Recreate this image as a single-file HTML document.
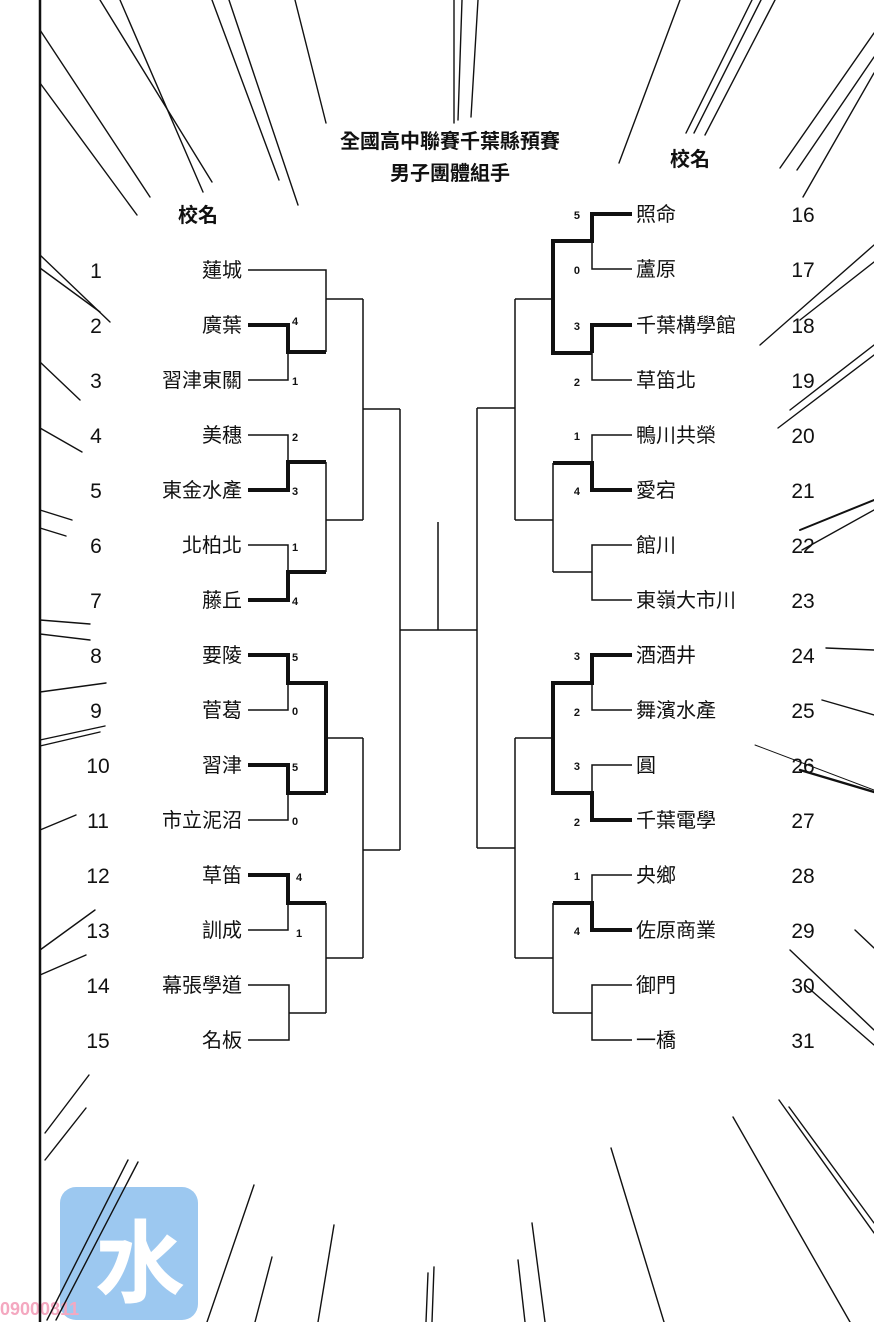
<!DOCTYPE html>
<html><head><meta charset="utf-8"><style>
html,body{margin:0;padding:0;background:#fff;}
svg{display:block;}
text{font-family:"Liberation Sans","Noto Sans CJK TC","Noto Sans CJK SC",sans-serif;fill:#111;}
.nm{font-size:20px;}
.num{font-size:21px;}
.sc{font-size:11px;font-weight:bold;}
.t{font-size:20px;font-weight:bold;}
</style></head><body>
<svg width="874" height="1322" viewBox="0 0 874 1322" xmlns="http://www.w3.org/2000/svg">
<rect width="874" height="1322" fill="#fff"/>
<!-- watermark -->
<rect x="60" y="1187" width="138" height="133" rx="16" fill="#9cc8f0"/>
<text x="140" y="1295" style="font-size:90px;fill:#fff;font-weight:bold" text-anchor="middle">水</text>
<text x="0" y="1315" style="font-size:18px;fill:#f4a8c0;font-weight:bold">09000811</text>
<!-- speed lines -->
<g stroke="#111" stroke-width="1.4" fill="none" stroke-linecap="round">
<line x1="40" y1="30" x2="150" y2="197"/><line x1="40" y1="83" x2="137" y2="215"/>
<line x1="100" y1="0" x2="212" y2="182"/><line x1="120" y1="0" x2="203" y2="192"/>
<line x1="212" y1="0" x2="279" y2="180"/><line x1="229" y1="0" x2="298" y2="205"/>
<line x1="295" y1="0" x2="326" y2="123"/>
<line x1="454" y1="0" x2="454" y2="123"/><line x1="462" y1="0" x2="458" y2="120"/><line x1="478" y1="0" x2="471" y2="117"/>
<line x1="680" y1="0" x2="619" y2="163"/>
<line x1="752" y1="0" x2="686" y2="133"/><line x1="761" y1="0" x2="694" y2="133"/><line x1="775" y1="0" x2="705" y2="135"/>
<line x1="874" y1="33" x2="780" y2="168"/><line x1="874" y1="57" x2="797" y2="170"/><line x1="874" y1="73" x2="803" y2="197"/>
<line x1="874" y1="245" x2="760" y2="345"/><line x1="874" y1="262" x2="800" y2="320"/>
<line x1="874" y1="355" x2="778" y2="428"/><line x1="874" y1="345" x2="790" y2="410"/>
<line x1="874" y1="500" x2="800" y2="530" stroke-width="2"/><line x1="874" y1="510" x2="802" y2="550"/>
<line x1="826" y1="648" x2="874" y2="650"/><line x1="822" y1="700" x2="874" y2="715"/>
<line x1="755" y1="745" x2="874" y2="790" stroke-width="1"/><line x1="800" y1="770" x2="874" y2="792" stroke-width="2.4"/>
<line x1="855" y1="930" x2="874" y2="948"/><line x1="790" y1="950" x2="874" y2="1030"/><line x1="805" y1="985" x2="874" y2="1045"/>
<line x1="40" y1="255" x2="110" y2="322"/><line x1="40" y1="268" x2="100" y2="312"/>
<line x1="40" y1="362" x2="80" y2="400"/><line x1="40" y1="428" x2="82" y2="452"/>
<line x1="40" y1="510" x2="72" y2="520"/><line x1="40" y1="528" x2="66" y2="536"/>
<line x1="40" y1="620" x2="90" y2="624"/><line x1="40" y1="634" x2="90" y2="640"/>
<line x1="40" y1="692" x2="106" y2="683"/><line x1="40" y1="740" x2="105" y2="726"/><line x1="40" y1="746" x2="100" y2="732"/>
<line x1="40" y1="830" x2="76" y2="815"/><line x1="40" y1="950" x2="95" y2="910"/><line x1="40" y1="975" x2="86" y2="955"/>
<line x1="45" y1="1133" x2="89" y2="1075"/><line x1="45" y1="1160" x2="86" y2="1108"/>
<line x1="47" y1="1320" x2="128" y2="1160"/><line x1="56" y1="1320" x2="138" y2="1162"/>
<line x1="207" y1="1322" x2="254" y2="1185"/><line x1="255" y1="1322" x2="272" y2="1257"/>
<line x1="318" y1="1322" x2="334" y2="1225"/>
<line x1="426" y1="1322" x2="428" y2="1273"/><line x1="432" y1="1322" x2="434" y2="1267"/>
<line x1="525" y1="1322" x2="518" y2="1260"/><line x1="545" y1="1322" x2="532" y2="1223"/>
<line x1="664" y1="1322" x2="611" y2="1148"/><line x1="850" y1="1322" x2="733" y2="1117"/>
<line x1="874" y1="1233" x2="779" y2="1100"/><line x1="874" y1="1223" x2="789" y2="1107"/>
</g>
<line x1="40" y1="0" x2="40" y2="1322" stroke="#111" stroke-width="2.5"/>

<!-- titles -->
<text class="t" x="450" y="148" text-anchor="middle">全國高中聯賽千葉縣預賽</text>
<text class="t" x="450" y="180" text-anchor="middle">男子團體組手</text>
<text class="t" x="198" y="222" text-anchor="middle">校名</text>
<text class="t" x="690" y="166" text-anchor="middle">校名</text>

<!-- bracket thin -->
<g stroke="#111" stroke-width="1.5" fill="none">
<path d="M248 270H326V352"/><path d="M248 380H288V352"/><path d="M326 299H363"/>
<path d="M248 435H288V462"/><path d="M248 545H288V572"/><path d="M326 462V572"/><path d="M326 520H363"/>
<path d="M363 299V520"/><path d="M363 409H400"/>
<path d="M248 710H288V683"/><path d="M248 820H288V793"/><path d="M326 738H363"/>
<path d="M248 930H288V903"/><path d="M248 985H289V1040H248"/><path d="M289 1013H326"/><path d="M326 903V1013"/><path d="M326 958H363"/>
<path d="M363 738V958"/><path d="M363 850H400"/>
<path d="M400 409V850"/><path d="M400 630H477"/><path d="M438 522V630"/>
<path d="M632 269H592V241"/><path d="M632 380H592V353"/><path d="M553 299H515"/>
<path d="M632 435H592V463"/><path d="M553 463V572"/><path d="M632 545H592V600H632"/><path d="M592 572H553"/><path d="M553 520H515"/>
<path d="M515 299V520"/><path d="M515 408H477"/>
<path d="M632 710H592V683"/><path d="M632 765H592V793"/><path d="M553 738H515"/>
<path d="M632 875H592V903"/><path d="M553 903V1013"/><path d="M632 985H592V1040H632"/><path d="M592 1013H553"/><path d="M553 958H515"/>
<path d="M515 738V958"/><path d="M515 848H477"/><path d="M477 408V848"/>
</g>
<!-- bracket thick -->
<g stroke="#111" stroke-width="4" fill="none">
<path d="M248 325H288V352H326"/>
<path d="M248 490H288V462H326"/>
<path d="M248 600H288V572H326"/>
<path d="M248 655H288V683H326V793"/>
<path d="M248 765H288V793H326"/>
<path d="M248 875H288V903H326"/>
<path d="M632 214H592V241H553V353H592"/><path d="M632 325H592V353"/>
<path d="M632 490H592V463H553"/>
<path d="M632 655H592V683H553V793H592V820H632"/>
<path d="M632 930H592V903H553"/>
</g>

<!-- scores left -->
<g>
<text class="sc" x="292" y="325">4</text><text class="sc" x="292" y="385">1</text>
<text class="sc" x="292" y="441">2</text><text class="sc" x="292" y="495">3</text>
<text class="sc" x="292" y="551">1</text><text class="sc" x="292" y="605">4</text>
<text class="sc" x="292" y="661">5</text><text class="sc" x="292" y="715">0</text>
<text class="sc" x="292" y="771">5</text><text class="sc" x="292" y="825">0</text>
<text class="sc" x="296" y="881">4</text><text class="sc" x="296" y="937">1</text>
</g>
<!-- scores right -->
<g text-anchor="end">
<text class="sc" x="580" y="219">5</text><text class="sc" x="580" y="274">0</text>
<text class="sc" x="580" y="330">3</text><text class="sc" x="580" y="386">2</text>
<text class="sc" x="580" y="440">1</text><text class="sc" x="580" y="495">4</text>
<text class="sc" x="580" y="660">3</text><text class="sc" x="580" y="716">2</text>
<text class="sc" x="580" y="770">3</text><text class="sc" x="580" y="826">2</text>
<text class="sc" x="580" y="880">1</text><text class="sc" x="580" y="935">4</text>
</g>

<!-- left names -->
<g text-anchor="end">
<text class="nm" x="242" y="277">蓮城</text>
<text class="nm" x="242" y="332">廣葉</text>
<text class="nm" x="242" y="387">習津東關</text>
<text class="nm" x="242" y="442">美穗</text>
<text class="nm" x="242" y="497">東金水產</text>
<text class="nm" x="242" y="552">北柏北</text>
<text class="nm" x="242" y="607">藤丘</text>
<text class="nm" x="242" y="662">要陵</text>
<text class="nm" x="242" y="717">菅葛</text>
<text class="nm" x="242" y="772">習津</text>
<text class="nm" x="242" y="827">市立泥沼</text>
<text class="nm" x="242" y="882">草笛</text>
<text class="nm" x="242" y="937">訓成</text>
<text class="nm" x="242" y="992">幕張學道</text>
<text class="nm" x="242" y="1047">名板</text>
</g>
<!-- left numbers -->
<g text-anchor="middle">
<text class="num" x="96" y="278">1</text><text class="num" x="96" y="333">2</text><text class="num" x="96" y="388">3</text>
<text class="num" x="96" y="443">4</text><text class="num" x="96" y="498">5</text><text class="num" x="96" y="553">6</text>
<text class="num" x="96" y="608">7</text><text class="num" x="96" y="663">8</text><text class="num" x="96" y="718">9</text>
<text class="num" x="98" y="773">10</text><text class="num" x="98" y="828">11</text><text class="num" x="98" y="883">12</text>
<text class="num" x="98" y="938">13</text><text class="num" x="98" y="993">14</text><text class="num" x="98" y="1048">15</text>
</g>
<!-- right names -->
<g>
<text class="nm" x="636" y="221">照命</text>
<text class="nm" x="636" y="276">蘆原</text>
<text class="nm" x="636" y="332">千葉構學館</text>
<text class="nm" x="636" y="387">草笛北</text>
<text class="nm" x="636" y="442">鴨川共榮</text>
<text class="nm" x="636" y="497">愛宕</text>
<text class="nm" x="636" y="552">館川</text>
<text class="nm" x="636" y="607">東嶺大市川</text>
<text class="nm" x="636" y="662">酒酒井</text>
<text class="nm" x="636" y="717">舞濱水產</text>
<text class="nm" x="636" y="772">圓</text>
<text class="nm" x="636" y="827">千葉電學</text>
<text class="nm" x="636" y="882">央鄉</text>
<text class="nm" x="636" y="937">佐原商業</text>
<text class="nm" x="636" y="992">御門</text>
<text class="nm" x="636" y="1047">一橋</text>
</g>
<!-- right numbers -->
<g text-anchor="middle">
<text class="num" x="803" y="222">16</text><text class="num" x="803" y="277">17</text><text class="num" x="803" y="333">18</text>
<text class="num" x="803" y="388">19</text><text class="num" x="803" y="443">20</text><text class="num" x="803" y="498">21</text>
<text class="num" x="803" y="553">22</text><text class="num" x="803" y="608">23</text><text class="num" x="803" y="663">24</text>
<text class="num" x="803" y="718">25</text><text class="num" x="803" y="773">26</text><text class="num" x="803" y="828">27</text>
<text class="num" x="803" y="883">28</text><text class="num" x="803" y="938">29</text><text class="num" x="803" y="993">30</text>
<text class="num" x="803" y="1048">31</text>
</g>
</svg>
</body></html>
